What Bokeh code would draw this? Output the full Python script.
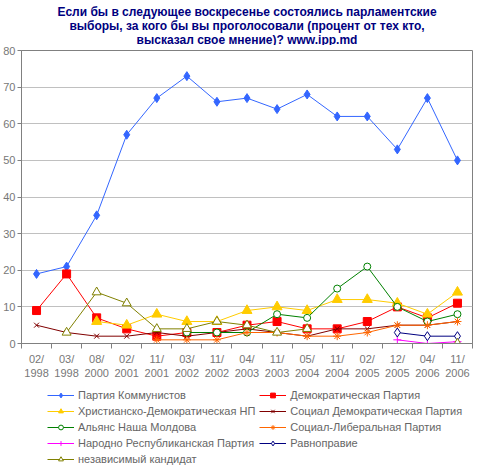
from bokeh.plotting import figure
from bokeh.layouts import column
from bokeh.models import Range1d, FixedTicker, Legend, LegendItem
from bokeh.core.properties import value
from bokeh.embed import file_html
from bokeh.resources import INLINE

NA = float("nan")

# survey dates (category axis)
dates = ["02/\n1998", "03/\n1998", "08/\n2000", "02/\n2001", "11/\n2001",
         "03/\n2002", "11/\n2002", "04/\n2003", "11/\n2003", "05/\n2004",
         "11/\n2004", "02/\n2005", "12/\n2005", "04/\n2006", "11/\n2006"]

# percent per party
communists = [19, 21, 35, 57, 67, 73, 66, 67, 64, 68, 62, 62, 53, 67, 50]
democratic = [9, 19, 7, 4, 2, 3, 3, 5, 6, 4, 4, 6, 10, 7, 11]
christian_dem = [NA, NA, 6, 5, 8, 6, 6, 9, 10, 9, 12, 12, 11, 8, 14]
social_dem = [5, 3, 2, 2, 3, 2, 3, 4, 3, 2, 4, 4, 5, 5, 6]
alliance = [NA, NA, NA, NA, NA, 3, 3, 3, 8, 7, 15, 21, 10, 6, 8]
social_lib = [NA, NA, NA, NA, 1, 1, 1, 3, 3, 2, 2, 3, 5, 5, 6]
peoples_rep = [NA, NA, NA, NA, NA, NA, NA, NA, NA, NA, NA, NA, 1, 0, 0.5]
ravnopravie = [NA, NA, NA, NA, NA, NA, NA, NA, NA, NA, NA, NA, 3, 2, 2]
independent = [NA, 3, 14, 11, 4, 4, 6, 5, 3, 4, NA, NA, NA, NA, 0]

title_lines = ["Если бы в следующее воскресенье состоялись парламентские",
               "выборы, за кого бы вы проголосовали (процент от тех кто,",
               "высказал свое мнение)? www.ipp.md"]

xs = [i + 0.5 for i in range(len(dates))]

FONT = "Liberation Sans"
W = 474

# title strip (pixel-like coordinates, y grows downwards)
tf = figure(width=W, height=45, output_backend="svg", toolbar_location=None,
            x_axis_location=None, y_axis_location=None,
            x_range=Range1d(0, W), y_range=Range1d(45, 0),
            min_border_top=0, min_border_left=0, min_border_right=0,
            min_border_bottom=0)
tf.outline_line_color = None
tf.xgrid.visible = False
tf.ygrid.visible = False
tf.text(x=[W / 2] * 3, y=[11, 25, 39], text=title_lines, text_align="center",
        text_baseline="middle", text_font=value(FONT), text_font_size="12px",
        text_font_style="bold", text_color="#000080")

p = figure(width=W, height=336, output_backend="svg", toolbar_location=None,
           x_range=Range1d(0, len(dates)), y_range=Range1d(0, 80),
           min_border_top=5, min_border_left=0, min_border_right=2,
           min_border_bottom=37)
p.outline_line_color = "#808080"
p.border_fill_color = "white"

# x axis: labels at category centres, tick marks between categories
p.xaxis.ticker = FixedTicker(ticks=xs, minor_ticks=list(range(len(dates) + 1)))
p.xaxis.major_label_overrides = {x: d for x, d in zip(xs, dates)}
p.xaxis.major_tick_out = 0
p.xaxis.major_tick_in = 0
p.xaxis.minor_tick_out = 5
p.xaxis.minor_tick_in = 0
p.xaxis.major_label_standoff = 4
p.xaxis.axis_line_color = "#808080"
p.xaxis.minor_tick_line_color = "#808080"
p.xaxis.major_label_text_font = FONT
p.xaxis.major_label_text_font_size = "11px"
p.xaxis.major_label_text_color = "#777777"

p.yaxis.ticker = FixedTicker(ticks=[0, 10, 20, 30, 40, 50, 60, 70, 80])
p.yaxis.major_tick_out = 4
p.yaxis.major_tick_in = 0
p.yaxis.minor_tick_line_color = None
p.yaxis.major_label_standoff = 2
p.yaxis.axis_line_color = "#808080"
p.yaxis.major_tick_line_color = "#808080"
p.yaxis.major_label_text_font = FONT
p.yaxis.major_label_text_font_size = "11px"
p.yaxis.major_label_text_color = "#777777"

p.xgrid.visible = False
p.ygrid.grid_line_color = "#c0c0c0"

series = [
    ("Партия Коммунистов", communists, "#3366ff", "diamond", 9, "#3366ff"),
    ("Демократическая Партия", democratic, "#ff0000", "square", 8, "#ff0000"),
    ("Христианско-Демократическая НП", christian_dem, "#ffcc00", "triangle", 10, "#ffcc00"),
    ("Социал Демократическая Партия", social_dem, "#800000", "x", 7, None),
    ("Альянс Наша Молдова", alliance, "#008000", "circle", 7, "white"),
    ("Социал-Либеральная Партия", social_lib, "#ff6600", "asterisk", 8, None),
    ("Народно Республиканская Партия", peoples_rep, "#ff00ff", "cross", 8, None),
    ("Равноправие", ravnopravie, "#000080", "diamond", 9, "white"),
    ("независимый кандидат", independent, "#808000", "triangle", 9, "white"),
]

for name, vals, color, marker, size, fill in series:
    p.line(xs, vals, line_color=color, line_width=1)
    p.scatter(xs, vals, marker=marker, size=size, line_color=color,
              fill_color=fill, line_width=1)

# legend lives in its own strip under the chart
lg = figure(width=W, height=84, output_backend="svg", toolbar_location=None,
            x_axis_location=None, y_axis_location=None,
            x_range=Range1d(0, 1), y_range=Range1d(0, 1),
            min_border_top=0, min_border_left=0, min_border_right=0,
            min_border_bottom=0)
lg.outline_line_color = None
lg.xgrid.visible = False
lg.ygrid.visible = False

items = {}
for name, vals, color, marker, size, fill in series:
    ln = lg.line([NA], [NA], line_color=color, line_width=1)
    sc = lg.scatter([NA], [NA], marker=marker, size=size, line_color=color,
                    fill_color=fill, line_width=1)
    items[name] = LegendItem(label=name, renderers=[ln, sc])

# column-major order so the legend reads row by row like the original
order = ["Партия Коммунистов", "Христианско-Демократическая НП", "Альянс Наша Молдова",
         "Народно Республиканская Партия", "независимый кандидат",
         "Демократическая Партия", "Социал Демократическая Партия",
         "Социал-Либеральная Партия", "Равноправие"]
legend = Legend(items=[items[n] for n in order], orientation="vertical", nrows=5,
                location=(26, 0), border_line_color=None, background_fill_alpha=0,
                label_text_font=FONT, label_text_font_size="11px",
                label_text_color="#666666", glyph_width=27, glyph_height=12,
                label_height=12, label_standoff=4, spacing=4, padding=0,
                margin=0)
lg.add_layout(legend, "center")

open("out.html", "w").write(file_html(column(tf, p, lg), INLINE))
